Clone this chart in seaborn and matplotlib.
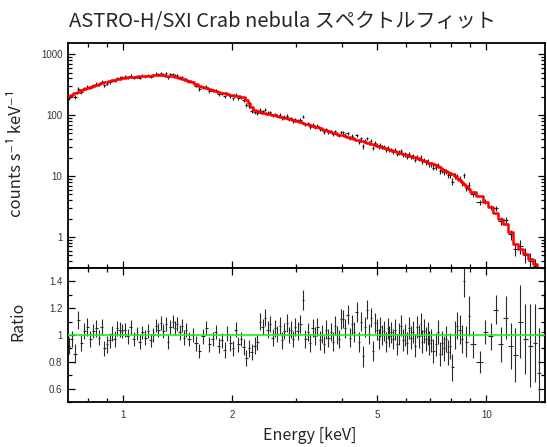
import numpy as np
import matplotlib
matplotlib.use("Agg")
import matplotlib.pyplot as plt
import seaborn as sns
from matplotlib.ticker import FixedLocator, FixedFormatter, NullFormatter, LogLocator

# Energy bin edges [keV]
bin_edges = [
    0.700, 0.715, 0.730, 0.745, 0.760, 0.775, 0.790, 0.805, 0.820, 0.835,
    0.850, 0.865, 0.880, 0.895, 0.910, 0.925, 0.940, 0.955, 0.970, 0.985,
    1.000, 1.02, 1.04, 1.06, 1.08, 1.10, 1.12, 1.14, 1.16, 1.18,
    1.20, 1.22, 1.24, 1.26, 1.28, 1.30, 1.32, 1.34, 1.36, 1.38,
    1.40, 1.42, 1.44, 1.46, 1.48, 1.50, 1.535, 1.570, 1.605, 1.640,
    1.675, 1.710, 1.745, 1.780, 1.815, 1.850, 1.885, 1.920, 1.955, 1.990,
    2.025, 2.060, 2.095, 2.130, 2.165, 2.200, 2.24, 2.28, 2.32, 2.36,
    2.40, 2.44, 2.48, 2.52, 2.56, 2.60, 2.64, 2.68, 2.72, 2.76,
    2.80, 2.84, 2.88, 2.92, 2.96, 3.00, 3.05, 3.10, 3.15, 3.20,
    3.25, 3.30, 3.35, 3.40, 3.45, 3.50, 3.55, 3.60, 3.65, 3.70,
    3.75, 3.80, 3.85, 3.90, 3.95, 4.00, 4.06, 4.12, 4.18, 4.24,
    4.30, 4.36, 4.42, 4.48, 4.54, 4.60, 4.66, 4.72, 4.78, 4.84,
    4.90, 4.96, 5.02, 5.08, 5.14, 5.20, 5.26, 5.32, 5.38, 5.44,
    5.50, 5.575, 5.650, 5.725, 5.800, 5.875, 5.950, 6.025, 6.100, 6.175,
    6.250, 6.325, 6.400, 6.475, 6.550, 6.625, 6.700, 6.775, 6.850, 6.925,
    7.00, 7.10, 7.20, 7.30, 7.40, 7.50, 7.60, 7.70, 7.80, 7.90,
    8.00, 8.125, 8.250, 8.375, 8.500, 8.625, 8.750, 8.875, 9.00, 9.39,
    9.77, 10.10, 10.43, 10.77, 11.11, 11.47, 11.84, 12.20, 12.60, 13.00,
    13.40, 13.78, 14.18, 14.60,
]

# Best-fit model, folded through the response [counts/s/keV]
model_rate = [
    206, 218, 230, 242, 254, 266, 278, 290, 302, 313,
    324, 334, 344, 353, 362, 371, 380, 389, 397, 405,
    410, 416, 421, 426, 430, 434, 438, 441, 444, 446,
    448, 449, 450, 450, 449, 447, 444, 439, 433, 426,
    418, 409, 399, 389, 378,
    365, 345, 325, 305, 292, 280, 269, 259, 250, 242,
    235, 228, 222, 216, 211, 207, 203, 200, 195, 180,
    158, 136, 122, 115, 112, 110, 108, 106, 104, 101,
    99, 97, 95, 93, 91, 89, 87, 85, 83, 81,
    80, 77.5, 75, 72.8, 70.6, 68.5, 66.5, 64.6, 62.8, 61.0,
    59.3, 57.7, 56.1, 54.6, 53.2, 51.8, 50.5, 49.2, 48.0, 46.8,
    46.4, 45.2, 44.0, 42.9, 41.8, 40.8, 39.8, 38.8, 37.9, 37.0,
    36.1, 35.3, 34.5, 33.7, 33.0, 32.3, 31.6, 30.9, 30.2, 29.6,
    29.0, 28.4, 27.8, 27.2, 26.7,
    26.1, 25.5, 24.9, 24.3, 23.8, 23.2, 22.7, 22.2, 21.7, 21.2,
    20.7, 20.2, 19.7, 19.3, 18.8, 18.4, 17.9, 17.5, 17.1, 16.7,
    16.4, 15.7, 15.1, 14.5, 13.9, 13.3, 12.8, 12.3, 11.8, 11.3,
    10.7, 10.0, 9.3, 8.6, 7.95, 7.35, 6.8, 6.25,
    5.46, 4.66, 3.75, 3.10, 2.47, 2.00, 1.66, 1.21, 0.76, 0.645,
    0.53, 0.44, 0.357, 0.29, 0.235,
]

# Data / model ratio
ratio = [
    0.92, 0.97, 0.86, 1.11, 0.94, 1.03, 1.06, 0.97, 1.03, 1.05,
    0.98, 1.06, 0.90, 0.93, 0.96, 1.01, 0.97, 1.05, 1.04, 1.03,
    1.04, 0.99, 1.06, 0.97, 1.01, 0.95, 1.02, 0.98, 1.03, 0.96,
    1.00, 1.07, 1.04, 1.09, 1.03, 1.08, 0.95, 1.06, 1.10, 1.05,
    1.08, 1.02, 1.07, 0.98, 1.04,
    0.97, 1.00, 0.94, 0.88, 0.99, 1.05, 0.93, 0.97, 1.02, 0.92,
    0.96, 0.89, 1.01, 0.94, 0.90, 1.04, 0.93, 0.97, 0.91, 0.83,
    0.90, 0.87, 0.92, 0.95, 1.10, 1.06, 1.13, 1.04, 1.08, 0.98,
    1.05, 1.01, 1.07, 0.96, 1.03, 1.09, 1.00, 1.04, 0.97, 1.06,
    1.03, 1.08, 1.26, 0.97, 1.02, 0.94, 1.05, 0.99, 1.06, 0.96,
    1.01, 0.93, 1.04, 0.98, 1.02, 0.95, 1.07, 1.00, 0.97, 1.12,
    1.12, 1.05, 1.15, 0.98, 1.08, 1.02, 1.17, 0.95, 1.10, 0.84,
    1.06, 1.19, 1.01, 1.13, 0.88, 1.09, 1.04, 0.97, 1.06, 1.00,
    1.03, 0.95, 1.05, 0.99, 1.02,
    0.97, 1.04, 0.93, 1.01, 1.07, 0.96, 1.00, 0.94, 1.05, 0.98,
    1.02, 0.92, 1.06, 0.99, 1.08, 0.95, 1.03, 0.97, 1.01, 0.94,
    0.96, 0.88, 0.93, 1.02, 0.86, 0.94, 0.90, 0.97, 0.87, 0.92,
    0.76, 1.00, 1.07, 1.04, 0.97, 1.40, 0.95, 1.14,
    0.93, 0.80, 1.02, 0.99, 1.19, 0.93, 1.13, 0.92, 0.85, 1.10,
    0.97, 0.92, 0.94, 0.72, 1.02,
]

# 1-sigma uncertainty of the ratio
ratio_err = [
    0.065, 0.060, 0.070, 0.068, 0.062, 0.058, 0.064, 0.060, 0.055, 0.062,
    0.058, 0.060, 0.056, 0.061, 0.057, 0.055, 0.059, 0.054, 0.056, 0.053,
    0.052, 0.055, 0.050, 0.054, 0.051, 0.053, 0.050, 0.055, 0.052, 0.050,
    0.054, 0.051, 0.053, 0.050, 0.055, 0.052, 0.051, 0.054, 0.050, 0.053,
    0.052, 0.055, 0.051, 0.054, 0.052,
    0.054, 0.052, 0.056, 0.053, 0.055, 0.052, 0.057, 0.054, 0.053, 0.056,
    0.054, 0.058, 0.055, 0.057, 0.054, 0.056, 0.058, 0.055, 0.057, 0.060,
    0.062, 0.060, 0.064, 0.061, 0.063, 0.060, 0.065, 0.062, 0.061, 0.064,
    0.062, 0.060, 0.065, 0.063, 0.061, 0.064, 0.062, 0.066, 0.063, 0.065,
    0.064, 0.066, 0.075, 0.065, 0.067, 0.064, 0.068, 0.066, 0.065, 0.069,
    0.067, 0.066, 0.070, 0.068, 0.067, 0.069, 0.071, 0.068, 0.070, 0.072,
    0.070, 0.072, 0.071, 0.073, 0.072, 0.074, 0.073, 0.075, 0.072, 0.076,
    0.074, 0.073, 0.075, 0.074, 0.077, 0.075, 0.076, 0.074, 0.077, 0.076,
    0.078, 0.075, 0.077, 0.076, 0.078,
    0.078, 0.080, 0.079, 0.081, 0.080, 0.082, 0.081, 0.083, 0.082, 0.084,
    0.083, 0.085, 0.084, 0.086, 0.085, 0.087, 0.086, 0.088, 0.087, 0.089,
    0.085, 0.088, 0.087, 0.090, 0.089, 0.092, 0.091, 0.094, 0.093, 0.096,
    0.100, 0.105, 0.100, 0.110, 0.105, 0.120, 0.115, 0.150,
    0.10, 0.08, 0.09, 0.10, 0.11, 0.13, 0.16, 0.17, 0.20, 0.27,
    0.26, 0.31, 0.29, 0.33, 0.30,
]

x_ticks = [1, 2, 5, 10]
x_tick_labels = ["1", "2", "5", "10"]
rate_ticks = [1, 10, 100, 1000]
rate_tick_labels = ["1", "10", "100", "1000"]
ratio_ticks = [0.6, 0.8, 1.0, 1.2, 1.4]
ratio_tick_labels = ["0.6", "0.8", "1", "1.2", "1.4"]

# ---------------------------------------------------------------------------
edges = np.asarray(bin_edges)
lo, hi = edges[:-1], edges[1:]
centre = 0.5 * (lo + hi)
model = np.asarray(model_rate)
r = np.asarray(ratio)
r_err = np.asarray(ratio_err)
data = model * r
data_err = model * r_err

sns.set_style("ticks")
plt.rcParams["font.family"] = ["Liberation Sans", "DejaVu Sans"]
big_font = ["Noto Sans CJK JP", "DejaVu Sans"]

W, H = 547, 447
fig = plt.figure(figsize=(W / 100, H / 100), dpi=100)
left, right = 68 / W, 545 / W
ax_top = fig.add_axes([left, 1 - 268 / H, right - left, (268 - 43.5) / H])
ax_bot = fig.add_axes([left, 1 - 402 / H, right - left, (402 - 268) / H])

xlim = (0.705, 14.5)

# --- spectrum panel
ax_top.set_xscale("log")
ax_top.set_yscale("log")
ax_top.errorbar(centre, data, xerr=[centre - lo, hi - centre], yerr=data_err,
                fmt="none", ecolor="#1a1a1a", elinewidth=0.8, capsize=0, zorder=2)
sns.lineplot(x=edges, y=np.append(model, model[-1]), drawstyle="steps-post",
             color="#ff0000", linewidth=1.8, estimator=None, errorbar=None,
             sort=False, ax=ax_top, zorder=3)
ax_top.set_xlim(*xlim)
ax_top.set_ylim(0.31, 1500)
ax_top.set_xlabel("")
ax_top.set_ylabel("")

# --- ratio panel
ax_bot.set_xscale("log")
ax_bot.errorbar(centre, r, xerr=[centre - lo, hi - centre], yerr=r_err,
                fmt="none", ecolor="#2a2a2a", elinewidth=0.8, capsize=0, zorder=2)
sns.lineplot(x=list(xlim), y=[1.0, 1.0], color="#22ee22", linewidth=1.2,
             ax=ax_bot, zorder=3)
ax_bot.set_xlim(*xlim)
ax_bot.set_ylim(0.5, 1.5)
ax_bot.set_xlabel("")
ax_bot.set_ylabel("")

minor_x = [0.8, 0.9, 3, 4, 6, 7, 8, 9]
for ax in (ax_top, ax_bot):
    ax.xaxis.set_major_locator(FixedLocator(x_ticks))
    ax.xaxis.set_minor_locator(FixedLocator(minor_x))
    ax.xaxis.set_minor_formatter(NullFormatter())
    ax.tick_params(which="both", direction="in", top=True, right=True,
                   width=0.9, colors="black", labelcolor="#333333", labelsize=7)
    ax.tick_params(which="major", length=5, pad=4)
    ax.tick_params(which="minor", length=2.8)
    for s in ax.spines.values():
        s.set_linewidth(1.3)
        s.set_color("black")

ax_top.xaxis.set_major_formatter(NullFormatter())
ax_top.yaxis.set_major_locator(FixedLocator(rate_ticks))
ax_top.yaxis.set_major_formatter(FixedFormatter(rate_tick_labels))
ax_top.yaxis.set_minor_locator(LogLocator(base=10, subs=np.arange(2, 10)))
ax_top.yaxis.set_minor_formatter(NullFormatter())

ax_bot.xaxis.set_major_formatter(FixedFormatter(x_tick_labels))
ax_bot.yaxis.set_major_locator(FixedLocator(ratio_ticks))
ax_bot.yaxis.set_major_formatter(FixedFormatter(ratio_tick_labels))
ax_bot.yaxis.set_minor_locator(FixedLocator([0.5, 0.7, 0.9, 1.1, 1.3, 1.5]))
ax_bot.tick_params(axis="x", pad=6)

# --- titles and axis labels
fig.text(282 / W, 1 - 21 / H, "ASTRO-H/SXI Crab nebula スペクトルフィット",
         ha="center", va="center", fontsize=14.5, family=big_font)
fig.text(17 / W, 1 - 153 / H, "counts s\u207b\u00b9 keV\u207b\u00b9",
         rotation=90, ha="center", va="center", fontsize=12, family=big_font)
fig.text(18 / W, 1 - 321 / H, "Ratio", rotation=90, ha="center", va="center",
         fontsize=11.5, family=big_font)
fig.text(310 / W, 1 - 435 / H, "Energy [keV]", ha="center", va="center",
         fontsize=11.5, family=big_font)

fig.savefig("out.png", dpi=100)
